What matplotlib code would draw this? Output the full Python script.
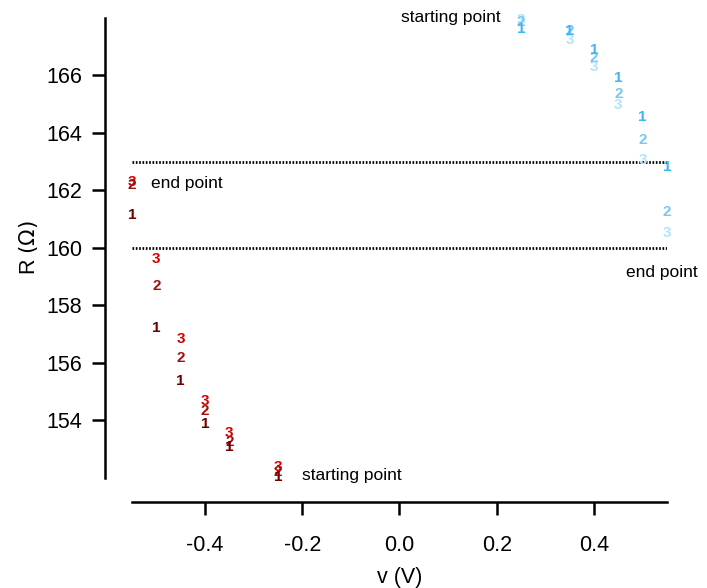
import numpy as np
import matplotlib
matplotlib.use("Agg")
import matplotlib.pyplot as plt

plt.rcParams["font.family"] = ["Liberation Sans", "DejaVu Sans"]

# sweep voltages (V)
v_neg = [-0.55, -0.50, -0.45, -0.40, -0.35, -0.25]
v_pos = [0.25, 0.35, 0.40, 0.45, 0.50, 0.55]

# resistance (Ohm) per run, negative sweep
r_neg = {
    "1": [161.14, 157.20, 155.37, 153.87, 153.07, 152.04],
    "2": [162.20, 158.67, 156.16, 154.32, 153.25, 152.20],
    "3": [162.30, 159.60, 156.82, 154.68, 153.55, 152.37],
}
# resistance (Ohm) per run, positive sweep
r_pos = {
    "1": [167.63, 167.55, 166.90, 165.90, 164.56, 162.80],
    "2": [167.85, 167.55, 166.62, 165.34, 163.77, 161.25],
    "3": [167.92, 167.22, 166.30, 164.96, 163.05, 160.52],
}
limits = [163.0, 160.0]

col_neg = {"1": "#6e0000", "2": "#a30d0d", "3": "#d40000"}
col_pos = {"1": "#3fb6f2", "2": "#72c9f5", "3": "#b4e2fa"}

fig = plt.figure(figsize=(7.07, 5.88), dpi=100)
ax = fig.add_axes([0.1867, 0.1871, 0.7567, 0.7823])

for run in ["3", "2", "1"]:
    for x, y in zip(v_neg, r_neg[run]):
        ax.text(x, y, run, color=col_neg[run], fontsize=11, fontweight="bold",
                ha="center", va="center")
    for x, y in zip(v_pos, r_pos[run]):
        ax.text(x, y, run, color=col_pos[run], fontsize=11, fontweight="bold",
                ha="center", va="center")

for y in limits:
    ax.axhline(y, color="black", lw=2, ls=(0, (0.6, 0.6)))

ax.text(0.004, 168.0, "starting point", fontsize=12.5, ha="left", va="center")
ax.text(-0.2, 152.1, "starting point", fontsize=12.5, ha="left", va="center")
ax.text(-0.51, 162.25, "end point", fontsize=12.5, ha="left", va="center")
ax.text(0.466, 159.15, "end point", fontsize=12.5, ha="left", va="center",
        clip_on=False)

ax.set_xlim(-0.55, 0.55)
ax.set_ylim(152.0, 168.0)
ax.set_xticks([-0.4, -0.2, 0.0, 0.2, 0.4])
ax.set_xticklabels(["-0.4", "-0.2", "0.0", "0.2", "0.4"])
ax.set_yticks([154, 156, 158, 160, 162, 164, 166])

for side in ["top", "right"]:
    ax.spines[side].set_visible(False)
ax.spines["left"].set_position(("outward", 19.5))
ax.spines["bottom"].set_position(("outward", 17.5))
for side in ["left", "bottom"]:
    ax.spines[side].set_linewidth(1.8)
ax.tick_params(direction="out", length=9.5, width=1.8, labelsize=15.5)
ax.tick_params(axis="x", pad=14)
ax.tick_params(axis="y", pad=7)

ax.set_xlabel("v (V)", fontsize=15.5, labelpad=8)
ax.set_ylabel(r"R $(\Omega)$", fontsize=15.5, labelpad=4)

fig.savefig("out.png", dpi=100)
